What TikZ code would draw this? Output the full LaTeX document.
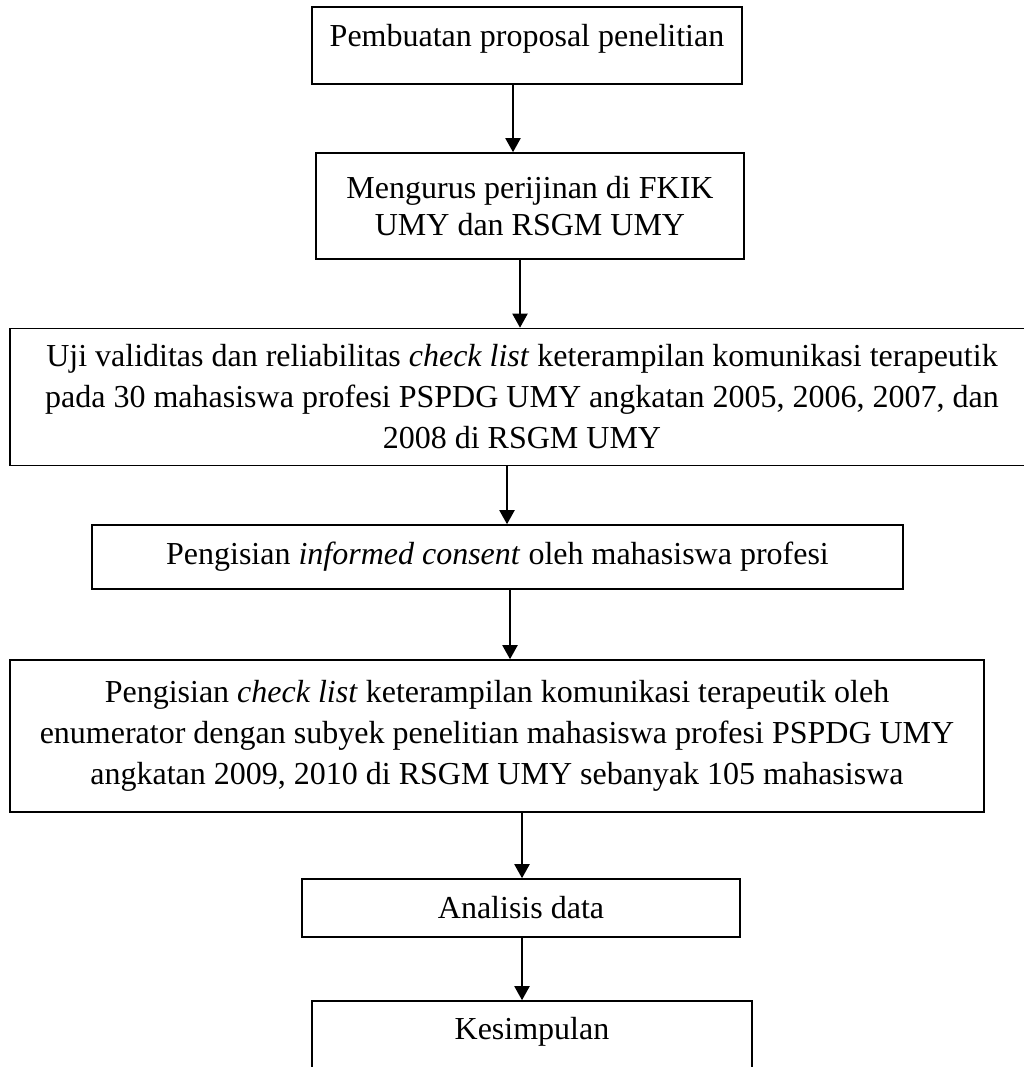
\documentclass[tikz,border=0pt]{standalone}
\usepackage{fontspec}
\setmainfont{Liberation Serif}
\usetikzlibrary{arrows.meta}
\begin{document}
\begin{tikzpicture}[x=1pt,y=-1pt,
  box/.style={draw=black,line width=1.6pt,rectangle,inner sep=0pt,align=center,
    font=\fontsize{32}{41}\selectfont},
  arr/.style={line width=2pt,-{Triangle[length=14pt,width=15pt]}}]
\clip (0,0) rectangle (1024,1067);
\node[box,minimum width=430pt,minimum height=77pt,text depth=21pt] (b1) at (527,45.5) {Pembuatan proposal penelitian};
\node[box,minimum width=428pt,minimum height=106pt,font=\fontsize{32}{37}\selectfont] (b2) at (530,206) {Mengurus perijinan di FKIK\\UMY dan RSGM UMY};
\node[box,minimum width=1024pt,minimum height=137pt] (b3) at (522,397) {Uji validitas dan reliabilitas \textit{check list} keterampilan komunikasi terapeutik\\pada 30 mahasiswa profesi PSPDG UMY angkatan 2005, 2006, 2007, dan\\2008 di RSGM UMY};
\node[box,minimum width=811pt,minimum height=64pt] (b4) at (497.5,557) {Pengisian \textit{informed consent} oleh mahasiswa profesi};
\node[box,minimum width=974pt,minimum height=152pt] (b5) at (497,736) {Pengisian \textit{check list} keterampilan komunikasi terapeutik oleh\\enumerator dengan subyek penelitian mahasiswa profesi PSPDG UMY\\angkatan 2009, 2010 di RSGM UMY sebanyak 105 mahasiswa};
\node[box,minimum width=438pt,minimum height=58pt] (b6) at (521,908) {Analisis data};
\node[box,minimum width=440pt,minimum height=80pt,text depth=25pt] (b7) at (532,1041) {Kesimpulan};
\draw[arr] (b1.south -| 513,0) -- (b2.north -| 513,0);
\draw[arr] (b2.south -| 520,0) -- (b3.north -| 520,0);
\draw[arr] (b3.south -| 507,0) -- (b4.north -| 507,0);
\draw[arr] (b4.south -| 510,0) -- (b5.north -| 510,0);
\draw[arr] (b5.south -| 522,0) -- (b6.north -| 522,0);
\draw[arr] (b6.south -| 522,0) -- (b7.north -| 522,0);
\end{tikzpicture}
\end{document}
